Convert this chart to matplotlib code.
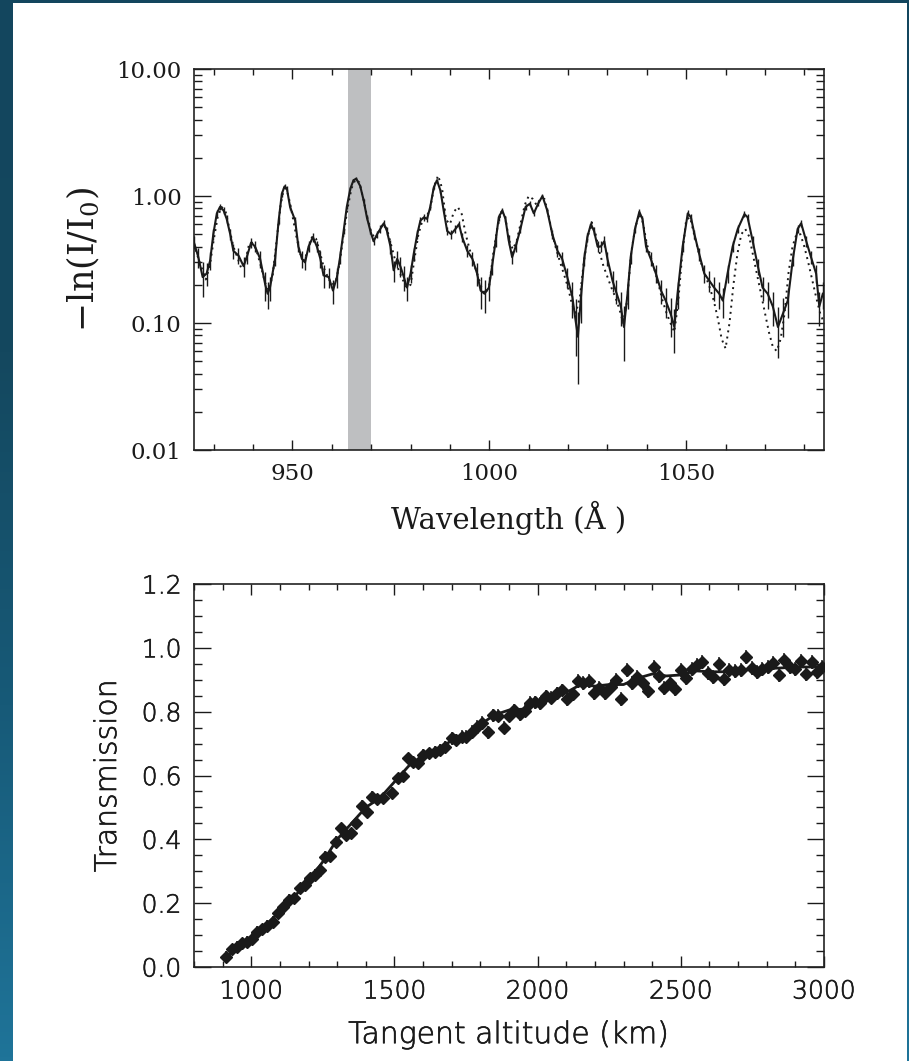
import numpy as np
import matplotlib.pyplot as plt
import matplotlib.patheffects as pe
from matplotlib.colors import LinearSegmentedColormap
from matplotlib.patches import Rectangle
from matplotlib.ticker import FixedLocator, MultipleLocator, LogLocator, NullFormatter

plt.rcParams['mathtext.fontset'] = 'dejavuserif'

# ---- spectrum: measured optical depth with errors ----
spec_wl = [925.0, 926.1, 927.2, 928.2, 929.1, 929.9, 930.8, 931.6, 932.5, 933.3,
           934.2, 935.0, 936.3, 937.6, 938.4, 939.5, 940.5, 941.8, 943.1, 943.7,
           944.3, 945.6, 946.5, 947.3, 948.0, 948.6, 949.4, 950.7, 951.5, 952.4,
           953.2, 954.1, 955.2, 956.2, 957.1, 957.9, 959.2, 960.3, 961.3, 962.1,
           963.0, 963.8, 964.7, 965.5, 966.2, 967.2, 968.1, 968.9, 969.8, 970.6,
           971.5, 972.3, 973.2, 974.0, 974.9, 975.7, 976.6, 977.4, 978.3, 979.1,
           980.0, 980.8, 981.7, 982.5, 983.4, 984.2, 985.0, 985.9, 986.7, 987.6,
           988.4, 989.3, 990.3, 991.4, 992.3, 993.1, 994.4, 995.7, 996.9, 997.8,
           998.8, 999.9, 1000.7, 1001.6, 1002.4, 1003.3, 1004.1, 1004.9, 1005.8, 1006.7,
           1007.9, 1009.2, 1010.3, 1011.3, 1012.4, 1013.5, 1014.7, 1016.0, 1017.3, 1018.5,
           1019.8, 1021.1, 1021.9, 1022.5, 1023.2, 1024.1, 1024.9, 1025.8, 1026.6, 1027.5,
           1028.3, 1029.2, 1030.0, 1031.3, 1032.1, 1033.4, 1034.2, 1035.1, 1035.9, 1037.0,
           1038.1, 1038.9, 1039.8, 1041.0, 1042.3, 1043.6, 1044.8, 1046.1, 1047.0, 1047.8,
           1049.1, 1050.4, 1051.2, 1052.1, 1053.3, 1054.6, 1055.9, 1057.1, 1058.4, 1059.3,
           1060.5, 1061.8, 1063.1, 1064.8, 1065.6, 1066.9, 1068.2, 1069.4, 1070.7, 1072.0,
           1073.3, 1074.5, 1075.8, 1077.1, 1078.3, 1079.2, 1080.5, 1081.7, 1083.0, 1083.8,
           1084.7]
spec_tau = [0.43, 0.33, 0.23, 0.245, 0.31, 0.50, 0.73, 0.82, 0.77, 0.66,
            0.50, 0.37, 0.34, 0.28, 0.33, 0.43, 0.40, 0.32, 0.20, 0.17,
            0.19, 0.32, 0.64, 1.04, 1.19, 1.14, 0.82, 0.64, 0.40, 0.32,
            0.30, 0.40, 0.475, 0.40, 0.32, 0.237, 0.23, 0.18, 0.23, 0.33,
            0.53, 0.82, 1.14, 1.33, 1.37, 1.20, 0.92, 0.68, 0.53, 0.44,
            0.50, 0.55, 0.61, 0.53, 0.40, 0.26, 0.32, 0.28, 0.23, 0.19,
            0.245, 0.35, 0.50, 0.64, 0.68, 0.66, 0.82, 1.17, 1.33, 1.10,
            0.77, 0.53, 0.50, 0.55, 0.60, 0.475, 0.37, 0.32, 0.245, 0.18,
            0.17, 0.19, 0.28, 0.44, 0.68, 0.77, 0.66, 0.45, 0.33, 0.40,
            0.55, 0.82, 0.87, 0.73, 0.87, 1.00, 0.77, 0.50, 0.37, 0.32,
            0.23, 0.16, 0.105, 0.078, 0.15, 0.32, 0.475, 0.60, 0.53, 0.40,
            0.40, 0.44, 0.32, 0.215, 0.18, 0.135, 0.093, 0.17, 0.33, 0.55,
            0.75, 0.66, 0.40, 0.32, 0.245, 0.18, 0.15, 0.117, 0.093, 0.17,
            0.40, 0.73, 0.68, 0.50, 0.35, 0.245, 0.215, 0.19, 0.17, 0.15,
            0.245, 0.40, 0.55, 0.72, 0.68, 0.44, 0.28, 0.19, 0.17, 0.135,
            0.093, 0.117, 0.15, 0.32, 0.55, 0.61, 0.44, 0.33, 0.245, 0.135,
            0.17]
spec_err = [0.05, 0.06, 0.07, 0.05, 0.05, 0.05, 0.05, 0.05, 0.05, 0.05,
            0.05, 0.05, 0.05, 0.05, 0.04, 0.04, 0.04, 0.05, 0.05, 0.04,
            0.04, 0.04, 0.04, 0.05, 0.05, 0.05, 0.05, 0.04, 0.04, 0.05,
            0.04, 0.04, 0.04, 0.04, 0.05, 0.05, 0.04, 0.04, 0.04, 0.04,
            0.03, 0.03, 0.03, 0.03, 0.03, 0.03, 0.03, 0.03, 0.03, 0.03,
            0.03, 0.04, 0.04, 0.04, 0.05, 0.05, 0.05, 0.05, 0.05, 0.04,
            0.04, 0.04, 0.04, 0.04, 0.04, 0.04, 0.04, 0.04, 0.04, 0.04,
            0.04, 0.04, 0.04, 0.04, 0.04, 0.04, 0.04, 0.04, 0.05, 0.05,
            0.05, 0.04, 0.04, 0.04, 0.04, 0.04, 0.04, 0.04, 0.04, 0.04,
            0.04, 0.04, 0.04, 0.04, 0.04, 0.04, 0.04, 0.04, 0.04, 0.04,
            0.04, 0.05, 0.05, 0.045, 0.05, 0.04, 0.04, 0.04, 0.04, 0.04,
            0.04, 0.04, 0.04, 0.04, 0.04, 0.04, 0.043, 0.04, 0.04, 0.04,
            0.04, 0.04, 0.04, 0.04, 0.04, 0.04, 0.04, 0.04, 0.035, 0.04,
            0.04, 0.04, 0.04, 0.04, 0.04, 0.04, 0.04, 0.04, 0.04, 0.04,
            0.04, 0.04, 0.04, 0.04, 0.04, 0.04, 0.04, 0.04, 0.04, 0.04,
            0.04, 0.04, 0.04, 0.04, 0.04, 0.04, 0.04, 0.04, 0.04, 0.04,
            0.04]

# ---- spectrum: model optical depth ----
model_wl = [925, 926, 927, 928, 929, 930, 931, 932, 933, 934, 935, 936, 937, 938, 939,
            940, 941, 942, 943, 944, 945, 946, 947, 948, 949, 950, 951, 952, 953, 954,
            955, 956, 957, 958, 959, 960, 961, 962, 963, 964, 965, 966, 967, 968, 969,
            970, 971, 972, 973, 974, 975, 976, 977, 978, 979, 980, 981, 982, 983, 984,
            985, 986, 987, 988, 989, 990, 991, 992, 993, 994, 995, 996, 997, 998, 999,
            1000, 1001, 1002, 1003, 1004, 1005, 1006, 1007, 1008, 1009, 1010, 1011, 1012, 1013, 1014,
            1015, 1016, 1017, 1018, 1019, 1020, 1021, 1022, 1023, 1024, 1025, 1026, 1027, 1028, 1029,
            1030, 1031, 1032, 1033, 1034, 1035, 1036, 1037, 1038, 1039, 1040, 1041, 1042, 1043, 1044,
            1045, 1046, 1047, 1048, 1049, 1050, 1051, 1052, 1053, 1054, 1055, 1056, 1057, 1058, 1059,
            1060, 1061, 1062, 1063, 1064, 1065, 1066, 1067, 1068, 1069, 1070, 1071, 1072, 1073, 1074,
            1075, 1076, 1077, 1078, 1079, 1080, 1081, 1082, 1083, 1084, 1085]
model_tau = [0.42, 0.33, 0.27, 0.22, 0.28, 0.45, 0.68, 0.82, 0.76, 0.55, 0.40, 0.33, 0.27, 0.30, 0.42,
             0.43, 0.36, 0.28, 0.21, 0.18, 0.24, 0.45, 0.85, 1.22, 1.00, 0.70, 0.48, 0.35, 0.31, 0.38,
             0.48, 0.46, 0.36, 0.27, 0.23, 0.20, 0.21, 0.30, 0.50, 0.80, 1.15, 1.35, 1.28, 0.95, 0.68,
             0.52, 0.46, 0.52, 0.60, 0.55, 0.42, 0.32, 0.26, 0.22, 0.19, 0.20, 0.32, 0.50, 0.64, 0.68,
             0.80, 1.20, 1.45, 1.15, 0.65, 0.60, 0.75, 0.82, 0.72, 0.50, 0.38, 0.30, 0.24, 0.19, 0.17,
             0.20, 0.35, 0.55, 0.75, 0.70, 0.45, 0.38, 0.45, 0.62, 0.85, 1.00, 0.95, 0.85, 0.95, 0.95,
             0.72, 0.50, 0.38, 0.30, 0.24, 0.19, 0.14, 0.12, 0.16, 0.30, 0.48, 0.62, 0.50, 0.36, 0.28,
             0.23, 0.19, 0.16, 0.13, 0.10, 0.15, 0.35, 0.55, 0.72, 0.62, 0.42, 0.33, 0.26, 0.20, 0.15,
             0.12, 0.10, 0.085, 0.15, 0.35, 0.65, 0.68, 0.50, 0.38, 0.28, 0.23, 0.19, 0.15, 0.11, 0.075,
             0.063, 0.10, 0.20, 0.35, 0.50, 0.55, 0.48, 0.34, 0.24, 0.17, 0.12, 0.085, 0.065, 0.060, 0.075,
             0.12, 0.25, 0.40, 0.50, 0.50, 0.40, 0.30, 0.22, 0.16, 0.12, 0.10]

# ---- transmission vs tangent altitude ----
alt_km = [912, 931, 949, 966, 984, 1001, 1019, 1036, 1054, 1075,
          1094, 1112, 1133, 1149, 1170, 1187, 1205, 1222, 1240, 1257,
          1275, 1296, 1312, 1331, 1348, 1366, 1386, 1403, 1421, 1440,
          1459, 1490, 1513, 1531, 1548, 1566, 1583, 1601, 1622, 1641,
          1659, 1676, 1700, 1715, 1735, 1750, 1770, 1787, 1807, 1825,
          1843, 1863, 1882, 1901, 1919, 1938, 1956, 1973, 1991, 2008,
          2029, 2047, 2066, 2084, 2104, 2122, 2142, 2159, 2179, 2198,
          2215, 2235, 2255, 2272, 2291, 2311, 2329, 2348, 2367, 2386,
          2405, 2424, 2442, 2462, 2481, 2499, 2518, 2538, 2555, 2575,
          2594, 2613, 2632, 2651, 2669, 2689, 2709, 2726, 2747, 2765,
          2785, 2803, 2823, 2843, 2861, 2881, 2898, 2918, 2937, 2957,
          2974, 2994]
trans = [0.032, 0.055, 0.064, 0.074, 0.079, 0.087, 0.110, 0.118, 0.128, 0.142,
         0.168, 0.187, 0.210, 0.215, 0.246, 0.257, 0.278, 0.288, 0.304, 0.346,
         0.348, 0.393, 0.434, 0.413, 0.419, 0.450, 0.504, 0.487, 0.534, 0.525,
         0.528, 0.546, 0.591, 0.597, 0.654, 0.643, 0.638, 0.664, 0.669, 0.675,
         0.680, 0.690, 0.716, 0.711, 0.722, 0.722, 0.737, 0.753, 0.765, 0.735,
         0.789, 0.787, 0.750, 0.787, 0.805, 0.792, 0.803, 0.828, 0.829, 0.826,
         0.849, 0.844, 0.857, 0.868, 0.839, 0.854, 0.896, 0.889, 0.896, 0.857,
         0.873, 0.857, 0.876, 0.899, 0.839, 0.930, 0.889, 0.910, 0.889, 0.866,
         0.941, 0.912, 0.875, 0.891, 0.870, 0.930, 0.906, 0.933, 0.946, 0.957,
         0.922, 0.910, 0.948, 0.901, 0.930, 0.928, 0.930, 0.972, 0.938, 0.925,
         0.933, 0.939, 0.953, 0.915, 0.962, 0.941, 0.933, 0.960, 0.917, 0.957,
         0.925, 0.939]
trans_err = [0.018, 0.018, 0.018, 0.018, 0.018, 0.018, 0.018, 0.018, 0.018, 0.018,
             0.018, 0.018, 0.018, 0.018, 0.018, 0.018, 0.018, 0.018, 0.018, 0.018,
             0.018, 0.018, 0.018, 0.018, 0.018, 0.018, 0.018, 0.018, 0.018, 0.018,
             0.018, 0.018, 0.018, 0.018, 0.018, 0.018, 0.018, 0.018, 0.018, 0.018,
             0.018, 0.018, 0.020, 0.020, 0.020, 0.020, 0.020, 0.020, 0.020, 0.020,
             0.020, 0.020, 0.020, 0.020, 0.020, 0.020, 0.020, 0.020, 0.020, 0.020,
             0.020, 0.020, 0.020, 0.020, 0.020, 0.020, 0.022, 0.022, 0.022, 0.022,
             0.022, 0.022, 0.022, 0.022, 0.022, 0.022, 0.022, 0.022, 0.022, 0.022,
             0.022, 0.022, 0.022, 0.022, 0.022, 0.022, 0.022, 0.022, 0.022, 0.022,
             0.022, 0.022, 0.022, 0.022, 0.022, 0.022, 0.022, 0.022, 0.022, 0.022,
             0.022, 0.022, 0.022, 0.022, 0.022, 0.022, 0.022, 0.022, 0.022, 0.022,
             0.022, 0.022]
fit_alt = [910, 950, 1000, 1050, 1100, 1150, 1200, 1250, 1300, 1350,
           1400, 1450, 1500, 1550, 1600, 1650, 1700, 1750, 1800, 1850,
           1900, 1950, 2000, 2050, 2100, 2150, 2200, 2250, 2300, 2350,
           2400, 2450, 2500, 2550, 2600, 2650, 2700, 2750, 2800, 2850,
           2900, 2950, 3000]
fit_trans = [0.030, 0.060, 0.090, 0.130, 0.175, 0.220, 0.270, 0.330, 0.400, 0.450,
             0.500, 0.530, 0.580, 0.630, 0.660, 0.680, 0.710, 0.725, 0.760, 0.790,
             0.805, 0.808, 0.830, 0.845, 0.860, 0.885, 0.880, 0.885, 0.885, 0.905,
             0.918, 0.912, 0.915, 0.928, 0.925, 0.925, 0.930, 0.932, 0.935, 0.937,
             0.940, 0.940, 0.940]

fig = plt.figure(figsize=(9.09, 10.61), dpi=100)
fig.patch.set_facecolor('white')

# blue frame around the page
frame_cmap = LinearSegmentedColormap.from_list(
    'frame', ['#13465e', '#14485f', '#175a78', '#1f7499'])
grad = np.linspace(0, 1, 256).reshape(-1, 1)
for x0, w in [(0, 13), (907, 2)]:
    fax = fig.add_axes([x0 / 909, 0, w / 909, 1])
    fax.imshow(grad, aspect='auto', cmap=frame_cmap, origin='upper')
    fax.axis('off')
fig.add_artist(Rectangle((0, 1 - 3 / 1061), 1, 3 / 1061,
                         transform=fig.transFigure, color='#13465e', lw=0))

serif = 'DejaVu Serif'
sans = 'DejaVu Sans'
ink = '#1a1a1a'
# thin sans text gets a slight outline so the strokes read a bit heavier
thicken = [pe.withStroke(linewidth=0.45, foreground=ink)]

# ---- top panel: spectrum ----
ax1 = fig.add_axes([194 / 909, 1 - 450 / 1061, 630 / 909, 381 / 1061])
ax1.axvspan(964, 970, color='#bebfc1', lw=0, zorder=0)
ax1.errorbar(spec_wl, spec_tau, yerr=spec_err, fmt='-', color=ink,
             lw=1.5, elinewidth=1.0, capsize=0, zorder=3)
ax1.plot(model_wl, model_tau, linestyle=(0, (1, 2.2)), color=ink, lw=1.4, zorder=2)
ax1.set_yscale('log')
ax1.set_xlim(925, 1085)
ax1.set_ylim(0.01, 10)
ax1.xaxis.set_major_locator(FixedLocator([950, 1000, 1050]))
ax1.xaxis.set_minor_locator(MultipleLocator(10))
ax1.yaxis.set_major_locator(FixedLocator([0.01, 0.1, 1, 10]))
ax1.yaxis.set_minor_locator(LogLocator(base=10, subs=np.arange(2, 10)))
ax1.yaxis.set_minor_formatter(NullFormatter())
ax1.set_yticklabels(['0.01', '0.10', '1.00', '10.00'])
ax1.tick_params(which='both', direction='in', top=True, right=True, width=1.0,
                labelsize=16.5, pad=9, colors=ink)
ax1.tick_params(axis='x', which='major', length=7)
ax1.tick_params(axis='x', which='minor', length=4.5)
ax1.tick_params(axis='y', which='major', length=12)
ax1.tick_params(axis='y', which='minor', length=6)
for lab in ax1.get_xticklabels() + ax1.get_yticklabels():
    lab.set_family(serif)
ax1.set_xlabel('Wavelength (Å )', family=serif, fontsize=21, labelpad=12, color=ink)
ax1.set_ylabel(r'$-\mathrm{ln(I/I_0)}$', fontsize=25, labelpad=10, color=ink)
for s in ax1.spines.values():
    s.set_linewidth(1.2)
    s.set_color('#222222')

# ---- bottom panel: transmission ----
ax2 = fig.add_axes([194 / 909, 1 - 967 / 1061, 630 / 909, 383 / 1061])
ax2.errorbar(alt_km, trans, yerr=trans_err, fmt='D', color=ink, ms=6.5,
             elinewidth=1.1, capsize=0, zorder=3)
ax2.plot(fit_alt, fit_trans, '-', color=ink, lw=2.0, zorder=2)
ax2.set_xlim(800, 3000)
ax2.set_ylim(0, 1.2)
ax2.xaxis.set_major_locator(MultipleLocator(500))
ax2.xaxis.set_minor_locator(MultipleLocator(100))
ax2.yaxis.set_major_locator(MultipleLocator(0.2))
ax2.yaxis.set_minor_locator(MultipleLocator(0.05))
ax2.yaxis.set_major_formatter(plt.FormatStrFormatter('%.1f'))
ax2.tick_params(which='both', direction='in', top=True, right=True, width=1.0,
                labelsize=18, pad=9, colors=ink)
ax2.tick_params(axis='x', which='major', length=8)
ax2.tick_params(axis='x', which='minor', length=4)
ax2.tick_params(axis='y', which='major', length=12)
ax2.tick_params(axis='y', which='minor', length=6)
for lab in ax2.get_xticklabels() + ax2.get_yticklabels():
    lab.set_family(sans)
    lab.set_fontweight('light')
    lab.set_path_effects(thicken)
ax2.set_xlabel('Tangent altitude (km)', family=sans, fontweight='light',
               fontsize=21.5, labelpad=12, color=ink, path_effects=thicken)
ax2.set_ylabel('Transmission', family=sans, fontweight='light',
               fontsize=21.5, labelpad=14, color=ink, path_effects=thicken)
for s in ax2.spines.values():
    s.set_linewidth(1.2)
    s.set_color('#222222')

fig.savefig('out.png', dpi=100, facecolor=fig.get_facecolor())
